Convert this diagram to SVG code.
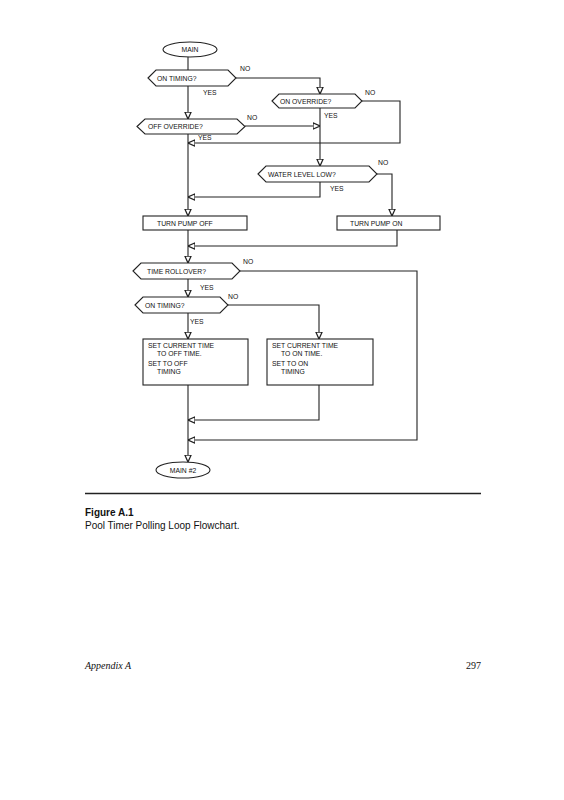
<svg xmlns="http://www.w3.org/2000/svg" width="564" height="800" viewBox="0 0 564 800">
<style>
.s{fill:#fff;stroke:#222;stroke-width:1.1}
.c{fill:none;stroke:#222;stroke-width:1.1}
.t{font-family:"Liberation Sans",Arial,sans-serif;font-size:6.8px;fill:#111}
.tc{text-anchor:middle}
</style>
<defs>
<marker id="ah" viewBox="0 0 10 10" refX="10" refY="5" markerWidth="7" markerHeight="8" markerUnits="userSpaceOnUse" orient="auto">
<path d="M0,0.5 L10,5 L0,9.5 z" fill="#fff" stroke="#222" stroke-width="1.8"/>
</marker>
</defs>
<rect width="564" height="800" fill="#fff"/>
<g id="connectors">
<path class="c" d="M188,57 V70"/>
<path class="c" d="M188,86 V119" marker-end="url(#ah)"/>
<path class="c" d="M236,78 H320 V94" marker-end="url(#ah)"/>
<path class="c" d="M362,101 H400 V143 H188" marker-end="url(#ah)"/>
<path class="c" d="M245,126 H320" marker-end="url(#ah)"/>
<path class="c" d="M320,108 V166" marker-end="url(#ah)"/>
<path class="c" d="M188,134 V216" marker-end="url(#ah)"/>
<path class="c" d="M377,174 H392 V216" marker-end="url(#ah)"/>
<path class="c" d="M320,182 V197 H188" marker-end="url(#ah)"/>
<path class="c" d="M397,230 V246 H188" marker-end="url(#ah)"/>
<path class="c" d="M188,230 V263" marker-end="url(#ah)"/>
<path class="c" d="M240,271 H417 V440 H188" marker-end="url(#ah)"/>
<path class="c" d="M188,279 V297" marker-end="url(#ah)"/>
<path class="c" d="M228,305 H319 V339" marker-end="url(#ah)"/>
<path class="c" d="M188,313 V339" marker-end="url(#ah)"/>
<path class="c" d="M319,385 V420 H188" marker-end="url(#ah)"/>
<path class="c" d="M188,385 V462" marker-end="url(#ah)"/>
</g>
<g id="main">
<ellipse class="s" cx="190" cy="49.5" rx="27" ry="7.5"/>
<text class="t tc" x="190" y="52">MAIN</text>
</g>
<g id="on-timing-1">
<path class="s" d="M148,78 L156,70 H228 L236,78 L228,86 H156 Z"/>
<text class="t" x="157" y="80.5">ON TIMING?</text>
<text class="t" x="240" y="71">NO</text>
<text class="t" x="203" y="95">YES</text>
</g>
<g id="on-override">
<path class="s" d="M272,101 L279,94 H355 L362,101 L355,108 H279 Z"/>
<text class="t" x="280" y="103.5">ON OVERRIDE?</text>
<text class="t" x="365" y="95">NO</text>
<text class="t" x="324" y="118">YES</text>
</g>
<g id="off-override">
<path class="s" d="M137,126.5 L145,119 H237 L245,126.5 L237,134 H145 Z"/>
<text class="t" x="148" y="129">OFF OVERRIDE?</text>
<text class="t" x="247" y="120">NO</text>
<text class="t" x="198" y="140">YES</text>
</g>
<g id="water-level-low">
<path class="s" d="M258,174 L266,166 H369 L377,174 L369,182 H266 Z"/>
<text class="t" x="268" y="176.5">WATER LEVEL LOW?</text>
<text class="t" x="378" y="165">NO</text>
<text class="t" x="330" y="191">YES</text>
</g>
<g id="turn-pump-off">
<rect class="s" x="143" y="216" width="104" height="14"/>
<text class="t" x="157" y="225.5">TURN PUMP OFF</text>
</g>
<g id="turn-pump-on">
<rect class="s" x="337" y="216" width="103" height="14"/>
<text class="t" x="350" y="225.5">TURN PUMP ON</text>
</g>
<g id="time-rollover">
<path class="s" d="M133,271 L141,263 H232 L240,271 L232,279 H141 Z"/>
<text class="t" x="147" y="273.5">TIME ROLLOVER?</text>
<text class="t" x="243" y="264">NO</text>
<text class="t" x="200" y="290">YES</text>
</g>
<g id="on-timing-2">
<path class="s" d="M135,305 L143,297 H220 L228,305 L220,313 H143 Z"/>
<text class="t" x="145" y="307.5">ON TIMING?</text>
<text class="t" x="228" y="299">NO</text>
<text class="t" x="190" y="324">YES</text>
</g>
<g id="set-off">
<rect class="s" x="143" y="339" width="105" height="46"/>
<text class="t" x="148" y="348">SET CURRENT TIME</text>
<text class="t" x="157" y="355.5">TO OFF TIME.</text>
<text class="t" x="148" y="366">SET TO OFF</text>
<text class="t" x="157" y="373.5">TIMING</text>
</g>
<g id="set-on">
<rect class="s" x="267" y="339" width="106" height="46"/>
<text class="t" x="272" y="348">SET CURRENT TIME</text>
<text class="t" x="281" y="355.5">TO ON TIME.</text>
<text class="t" x="272" y="366">SET TO ON</text>
<text class="t" x="281" y="373.5">TIMING</text>
</g>
<g id="main-2">
<ellipse class="s" cx="183" cy="470" rx="27" ry="8"/>
<text class="t tc" x="183" y="472.5">MAIN #2</text>
</g>
<g id="caption">
<line x1="85" y1="493.5" x2="481" y2="493.5" stroke="#222" stroke-width="1.4"/>
<text x="85" y="516" font-family="'Liberation Sans',Arial,sans-serif" font-size="10" font-weight="bold" fill="#111">Figure A.1</text>
<text x="85" y="529" font-family="'Liberation Sans',Arial,sans-serif" font-size="10" fill="#111">Pool Timer Polling Loop Flowchart.</text>
<text x="85" y="669" font-family="'Liberation Serif','Times New Roman',serif" font-size="10" font-style="italic" fill="#111">Appendix A</text>
<text x="481" y="669" text-anchor="end" font-family="'Liberation Serif','Times New Roman',serif" font-size="10" fill="#111">297</text>
</g>
</svg>
